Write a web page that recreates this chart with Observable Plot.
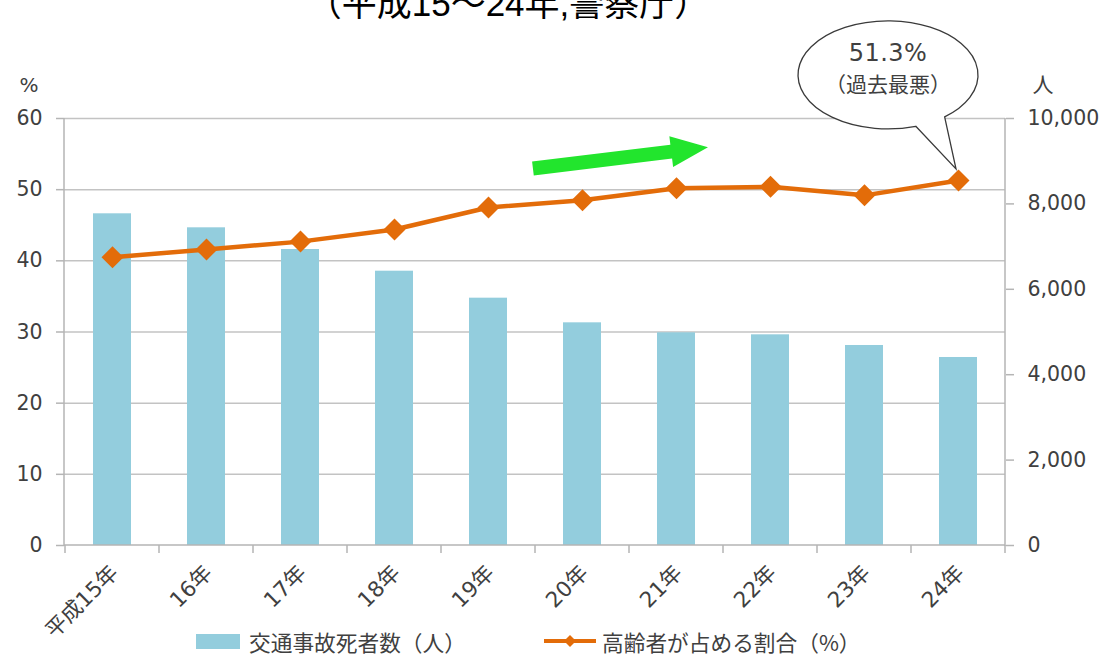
<!DOCTYPE html>
<html><head><meta charset="utf-8">
<script src="https://cdn.jsdelivr.net/npm/d3@7"></script>
<script src="https://cdn.jsdelivr.net/npm/@observablehq/plot@0.6"></script>
<style>
html,body{margin:0;padding:0;background:#fff;}
body{width:1106px;height:660px;overflow:hidden;position:relative;font-family:"Noto Sans CJK JP","Noto Sans",sans-serif;}
#title{position:absolute;top:-14px;left:0;width:1016px;text-align:center;font-size:35px;line-height:1;color:#000;white-space:nowrap;font-family:"Liberation Sans","Noto Sans CJK JP",sans-serif;}
#chart{position:absolute;top:0;left:0;}
#legend{position:absolute;top:624px;left:0;width:1106px;height:34px;font-size:21.7px;color:#404040;}
.lg{position:absolute;top:0;display:flex;align-items:center;height:34px;white-space:nowrap;}
</style>
</head><body>
<div id="chart"></div>
<div id="title"></div>
<div id="legend"></div>
<script>
// ---- data ----
const years = ["平成15年","16年","17年","18年","19年","20年","21年","22年","23年","24年"];
const deaths = [7768, 7440, 6932, 6424, 5792, 5215, 4981, 4934, 4684, 4403];
const elderlyShare = [40.5, 41.6, 42.7, 44.4, 47.5, 48.5, 50.2, 50.4, 49.2, 51.3];
const leftTicks = [0, 10, 20, 30, 40, 50, 60];
const rightTicks = [0, 2000, 4000, 6000, 8000, 10000];
const titleText = "（平成15～24年,警察庁）";
const seriesNames = ["交通事故死者数（人）", "高齢者が占める割合（%）"];
const calloutText = ["51.3%", "（過去最悪）"];
const unitLeft = "%", unitRight = "人";

const leftMax = 60, rightMax = 10000;
const toLeft = v => v * leftMax / rightMax;
const rows = years.map((y, i) => ({year: y, deaths: deaths[i], scaled: toLeft(deaths[i]), share: elderlyShare[i]}));

const barColor = "#93CDDD", lineColor = "#E36C09", gridColor = "#c3c3c3", textColor = "#404040";
const font = '"DejaVu Sans","Noto Sans CJK JP",sans-serif';
const cjk = '"Noto Sans CJK JP","Noto Sans",sans-serif';

const diamond = {
  draw(ctx, size) {
    const r = Math.sqrt(size / Math.PI);
    ctx.moveTo(0, -r); ctx.lineTo(r, 0); ctx.lineTo(0, r); ctx.lineTo(-r, 0); ctx.closePath();
  }
};

function overlay(index, scales, values, dimensions) {
  const x = scales.x, y = scales.y;
  const bw = x.bandwidth ? x.bandwidth() : 0;
  const step = x.step ? x.step() : bw;
  const cx = i => x(years[0]) + bw / 2 + i * step;
  const g = d3.create("svg:g");
  const L = dimensions.marginLeft, R = dimensions.width - dimensions.marginRight;
  const y0 = y(0), yT = y(leftMax);
  // axis lines
  [[L, yT, L, y0 + 1], [R, yT, R, y0 + 1], [L, y0, R, y0]].forEach(([a, b, c, d]) =>
    g.append("line").attr("x1", a).attr("y1", b).attr("x2", c).attr("y2", d)
      .attr("stroke", "#b5b5b5").attr("stroke-width", 1.5));
  // category boundary ticks
  for (let i = 0; i <= years.length; i++) {
    const xb = cx(i) - step / 2;
    g.append("line").attr("x1", xb).attr("x2", xb).attr("y1", y0).attr("y2", y0 + 8)
      .attr("stroke", "#b5b5b5").attr("stroke-width", 1.5);
  }
  // green trend arrow
  const p0 = [cx(4.478), y(52.9)], p1 = [cx(6.34), y(55.9)];
  const dx = p1[0] - p0[0], dy = p1[1] - p0[1], len = Math.hypot(dx, dy);
  const ux = dx / len, uy = dy / len, nx = -uy, ny = ux;
  const bodyHalf = 7, headHalf = 15.5, headLen = 37;
  const hb = [p1[0] - ux * headLen, p1[1] - uy * headLen];
  const pt = (p, k) => [p[0] + nx * k, p[1] + ny * k];
  const arrowPts = [pt(p0, -bodyHalf), pt(hb, -bodyHalf), pt(hb, -headHalf), p1, pt(hb, headHalf), pt(hb, bodyHalf), pt(p0, bodyHalf)];
  g.append("path").attr("d", "M" + arrowPts.map(p => p.join(",")).join("L") + "Z").attr("fill", "#22E52D");
  // callout bubble
  const ax = cx(9) - 2, ay = y(51.3) - 11;
  const ecx = ax - 68, ecy = ay - 94, rx = 90, ry = 54;
  const a1 = 51 * Math.PI / 180, a2 = 72 * Math.PI / 180;
  const e1 = [ecx + rx * Math.cos(a1), ecy + ry * Math.sin(a1)];
  const e2 = [ecx + rx * Math.cos(a2), ecy + ry * Math.sin(a2)];
  g.append("path")
    .attr("d", `M${e1[0]},${e1[1]} A${rx},${ry} 0 1 0 ${e2[0]},${e2[1]} L${ax},${ay} Z`)
    .attr("fill", "#fff").attr("stroke", "#3a3a3a").attr("stroke-width", 1.3);
  g.append("text").attr("x", ecx).attr("y", ecy - 22).attr("text-anchor", "middle").attr("dominant-baseline", "central")
    .attr("font-size", 24).attr("letter-spacing", 0.5).attr("fill", textColor).attr("font-family", font).text(calloutText[0]);
  g.append("text").attr("x", ecx).attr("y", ecy + 8).attr("text-anchor", "middle").attr("dominant-baseline", "central")
    .attr("font-size", 21).attr("fill", textColor).attr("font-family", cjk).text(calloutText[1]);
  return g.node();
}

const chart = Plot.plot({
  width: 1106, height: 620,
  marginTop: 118, marginBottom: 75, marginLeft: 64, marginRight: 101,
  style: {fontFamily: font, fontSize: "20px", color: textColor, background: "white", overflow: "visible"},
  x: {domain: years, paddingInner: 0.6, paddingOuter: 0.3, label: null},
  y: {domain: [0, leftMax], label: null},
  marks: [
    Plot.ruleY(leftTicks.filter(v => v > 0), {stroke: gridColor, strokeWidth: 1.5}),
    Plot.barY(rows, {x: "year", y: "scaled", fill: barColor}),
    Plot.axisY(leftTicks, {anchor: "left", tickSize: 8, tickPadding: 14, stroke: "#b5b5b5", strokeWidth: 1.5, fill: textColor, fontSize: 20.5, label: null}),
    Plot.axisY(rightTicks.map(toLeft), {anchor: "right", tickSize: 8, tickPadding: 14, stroke: "#b5b5b5", strokeWidth: 1.5, fill: textColor, fontSize: 20.5, label: null,
      tickFormat: d => d3.format(",")(Math.round(d * rightMax / leftMax))}),
    Plot.axisX({anchor: "bottom", tickRotate: -45, tickSize: 0, tickPadding: 24, fill: textColor, fontSize: 21.5, label: null, dx: 2}),
    Plot.text([unitLeft], {frameAnchor: "top-left", dx: -45, dy: -41, fontSize: 20, fill: textColor}),
    Plot.text([unitRight], {frameAnchor: "top-right", dx: 48, dy: -41, fontSize: 21, fill: textColor, fontFamily: cjk}),
    Plot.line(rows, {x: "year", y: "share", stroke: lineColor, strokeWidth: 4.5}),
    Plot.dot(rows, {x: "year", y: "share", r: 11, symbol: diamond, fill: lineColor, stroke: "none"}),
    overlay
  ]
});
document.getElementById("chart").appendChild(chart);
document.getElementById("title").textContent = titleText;

// legend
const lg = document.getElementById("legend");
lg.innerHTML = `
<div class="lg" style="left:196px"><span style="display:inline-block;width:44px;height:15px;background:${barColor};margin-right:9px"></span>${seriesNames[0]}</div>
<div class="lg" style="left:544px"><svg width="54" height="20" style="margin-right:4px"><line x1="0" y1="10" x2="52" y2="10" stroke="${lineColor}" stroke-width="4"/><path d="M26,4L32,10L26,16L20,10Z" fill="${lineColor}"/></svg>${seriesNames[1]}</div>`;
</script>
</body></html>
